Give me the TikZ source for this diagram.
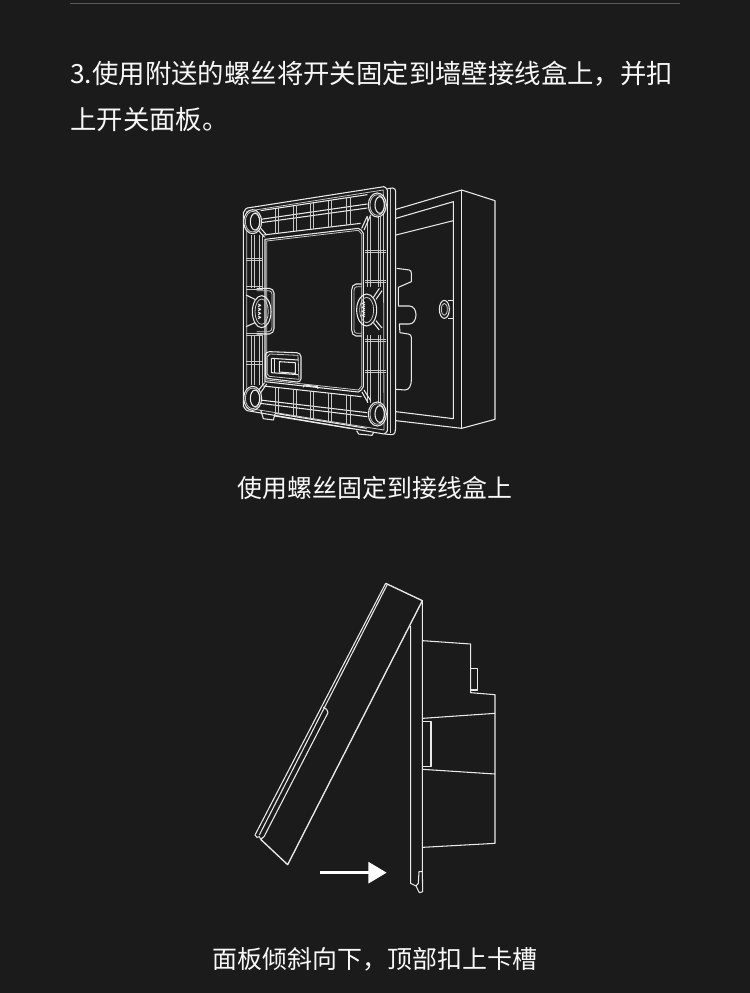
\documentclass[tikz,border=0pt]{standalone}
\usepackage{fontspec}
\setmainfont{Noto Sans CJK SC}
\usepackage{tikz}
\usetikzlibrary{arrows.meta, positioning, calc}
\definecolor{CBack}{HTML}{1B1B1B}
\definecolor{CRule}{HTML}{5A5A5A}
\definecolor{CWire}{HTML}{EAEAEA}
\definecolor{CText}{HTML}{F8F8F8}

\begin{document}
\begin{tikzpicture}[
    x=0.75pt, y=-0.75pt,
    headline/.style={anchor=base west, inner sep=0pt, text=CText, font=\fontsize{19.8}{24}\selectfont},
    caption/.style={anchor=base, inner sep=0pt, text=CText, font=\fontsize{18.7}{24}\selectfont},
    wire/.style={draw=CWire, line width=0.8pt, line join=round},
    finewire/.style={draw=CWire!85!black, line width=0.6pt, line join=round},
    pusharrow/.style={-{Triangle[length=13.75pt, width=15.75pt]}, white, line width=2.3pt},
    zoomed/.style={x=0.25pt, y=-0.25pt}
]
\fill[CBack] (0,0) rectangle (750,993);
\draw[CRule, line width=1pt] (70,3.5) -- (680,3.5);

\node[headline] (head1) at (70,83) {3.使用附送的螺丝将开关固定到墙壁接线盒上，并扣};
\node[headline] (head2) at (70,129) {上开关面板。};
\node[caption] (cap1) at (375,497) {使用螺丝固定到接线盒上};
\node[caption] (cap2) at (375,968) {面板倾斜向下，顶部扣上卡槽};

% wall box and mounting frame
\begin{scope}[shift={(230,180)}, zoomed]
  % box behind the frame
  \draw[wire] (498,88) -- (695,30) -- (795,62) -- (795,718) -- (695,745) -- (498,722);
  \draw[wire] (695,30) -- (695,745);
  \draw[wire] (498,115) -- (670,65) -- (670,716) -- (498,695);
  \draw[wire] (498,165) -- (670,122);
  \draw[wire] (500,265) -- (538,270) to[out=0,in=90] (544,280) -- (544,305) -- (505,322) -- (505,378) -- (538,378) to[out=0,in=90] (558,404) to[out=-90,in=0] (538,432) -- (508,432) -- (510,458) -- (535,462) to[out=0,in=90] (544,472) -- (544,600) to[out=-90,in=0] (525,630) -- (498,628);
  \draw[wire] (655,362) -- (671,362) -- (671,415) -- (655,415);
  \draw[wire] (643,388) ellipse [x radius=15, y radius=27];
  \draw[finewire] (643,388) ellipse [x radius=9, y radius=18];
  % frame outline
  \draw[wire] (52,84) -- (462,20) to[out=0,in=135] (472,30) -- (472,752) to[out=-135,in=0] (462,762) -- (52,692) to[out=180,in=90] (40,680) -- (40,96) to[out=-90,in=180] cycle;
  \draw[wire] (472,26) -- (488,24) to[out=0,in=90] (497,34) -- (497,745) to[out=-90,in=0] (486,764) -- (464,762);
  \draw[finewire] (482,26) -- (482,760);
  \draw[finewire] (50,94) -- (460,30) -- (462,750) -- (50,684) -- cycle;
  % window
  \draw[wire] (105,178) -- (385,145) to[out=0,in=135] (400,160) -- (400,620) to[out=-135,in=0] (385,636) -- (105,605) -- cycle;
  \draw[finewire] (110,183) -- (385,151) -- (395,162) -- (395,618) -- (385,630) -- (110,600) -- cycle;
  % rails along top and bottom
  \draw[wire] (92,92) -- (412,44);
  \draw[wire] (92,118) -- (412,72);
  \draw[wire] (92,128) -- (412,84);
  \draw[wire] (100,165) -- (392,130);
  \draw[wire] (100,618) -- (395,650);
  \draw[wire] (90,660) -- (412,698);
  \draw[wire] (90,670) -- (412,710);
  \draw[wire] (135,700) -- (410,745);
  \foreach \xr [evaluate=\xr as \ya using {92-0.15*(\xr-92)}, evaluate=\xr as \yb using {165-0.12*(\xr-100)}] in {135,190,240,295,350}
    \draw[finewire] (\xr,\ya) -- (\xr,\yb) (\xr+10,\ya-1.5) -- (\xr+10,\yb-1.2);
  \foreach \xr [evaluate=\xr as \ya using {618+0.11*(\xr-100)}, evaluate=\xr as \yb using {700+0.164*(\xr-135)}] in {135,190,240,295,350}
    \draw[finewire] (\xr,\ya) -- (\xr,\yb) (\xr+10,\ya+1.1) -- (\xr+10,\yb+1.6);
  % rails along left and right
  \foreach \xr in {65,72,88,96}
    \draw[finewire] (\xr,165) -- (\xr,325) (\xr,465) -- (\xr,615);
  \foreach \xr in {412,420,444,452}
    \draw[finewire] (\xr,110) -- (\xr,320) (\xr,465) -- (\xr,670);
  \foreach \yr in {235,320,460,545}
    \draw[finewire] (48,\yr) -- (100,\yr) (48,\yr+7) -- (100,\yr+7);
  \foreach \yr in {210,300,478,570}
    \draw[finewire] (406,\yr) -- (468,\yr) (406,\yr+7) -- (468,\yr+7);
  % corner screw seats
  \foreach \cx/\cy in {68/125, 442/75, 68/655, 442/702} {
    \fill[CBack] (\cx,\cy) ellipse [x radius=27, y radius=36];
    \draw[wire] (\cx,\cy) ellipse [x radius=27, y radius=36];
    \draw[finewire] (\cx,\cy) ellipse [x radius=22, y radius=31];
    \draw[wire] (\cx+7,\cy) ellipse [x radius=14, y radius=25];
  }
  \draw[wire] (84,150) -- (104,172) (92,145) -- (110,165);
  \draw[wire] (412,108) -- (395,145) (422,105) -- (402,150);
  \draw[wire] (86,630) -- (104,608) (92,638) -- (110,612);
  \draw[wire] (414,668) -- (396,636) (422,662) -- (402,630);
  % middle clips
  \draw[wire] (80,325) -- (118,325) to[out=0,in=90] (132,340) -- (132,445) to[out=-90,in=0] (118,462) -- (80,462);
  \draw[finewire] (80,332) -- (116,332) to[out=0,in=90] (126,342) -- (126,442) to[out=-90,in=0] (116,455) -- (80,455);
  \draw[wire] (95,395) ellipse [x radius=28, y radius=48];
  \draw[finewire] (95,395) ellipse [x radius=20, y radius=38];
  \foreach \yt in {372,384,396,408}
    \draw[wire] (84,\yt) -- (92,\yt+4) -- (84,\yt+8);
  \draw[wire] (48,345) -- (75,358) (48,440) -- (75,428);
  \draw[wire] (395,312) -- (378,312) to[out=180,in=90] (365,330) -- (365,450) to[out=-90,in=180] (378,468) -- (395,468);
  \draw[finewire] (395,320) -- (380,320) to[out=180,in=90] (372,332) -- (372,448) to[out=-90,in=180] (380,460) -- (395,460);
  \draw[wire] (410,390) ellipse [x radius=30, y radius=48];
  \draw[finewire] (410,390) ellipse [x radius=21, y radius=38];
  \foreach \yt in {366,378,390,402}
    \draw[wire] (405,\yt) -- (396,\yt+4) -- (405,\yt+8);
  \draw[wire] (430,352) -- (448,325) (438,358) -- (456,332) (430,428) -- (448,450) (438,422) -- (456,444);
  % latch window
  \draw[wire] (118,515) -- (200,518) to[out=0,in=90] (213,530) -- (213,596) to[out=-90,in=0] (202,606) -- (118,596) to[out=180,in=-90] (106,586) -- (106,526) to[out=90,in=180] cycle;
  \draw[finewire] (120,522) -- (204,526) -- (207,598) -- (118,589) -- (112,582) -- (112,530) -- cycle;
  \draw[wire] (124,535) -- (205,540) (124,535) -- (124,578) -- (205,584);
  \draw[wire] (134,538) -- (134,578);
  \draw[wire] (148,545) -- (196,548) -- (196,580) -- (148,576) -- cycle;
  % small tabs at the bottom
  \draw[wire] (220,622) -- (222,615) -- (262,620) -- (264,626);
  \draw[wire] (92,690) -- (100,716) -- (130,720) -- (135,702);
  \draw[wire] (135,708) -- (360,745);
  \draw[wire] (380,752) -- (386,762) -- (426,766) -- (432,756);
\end{scope}

% side view with tilted panel
\begin{scope}[shift={(240,570)}, zoomed]
  % tilted panel
  \draw[wire, line width=1pt] (437,40) -- (547,92) -- (143,884) -- (62,808);
  \draw[wire] (437,40) -- (45,795) -- (51,802) -- (58,800) -- (62,808);
  \draw[wire] (442,43) -- (58,795);
  \draw[wire] (250,412) -- (260,418) -- (264,428) -- (72,800) -- (62,808);
  % plate on the wall
  \draw[wire] (547,92) -- (547,905) -- (548,965) -- (538,968) -- (528,948) -- (512,940) -- (512,168);
  \draw[wire] (528,948) -- (535,940) -- (537,905) -- (547,905);
  % body behind the plate
  \draw[wire] (548,212) -- (692,222) -- (692,368) -- (765,374) -- (765,820) -- (548,832);
  \draw[wire] (692,295) -- (712,295) -- (712,360) -- (692,360);
  \draw[wire] (548,445) -- (765,430);
  \draw[wire] (548,598) -- (765,612);
  \draw[wire] (548,455) -- (573,455) -- (573,590) -- (548,590);
  \coordinate (push1) at (241,908);
  \coordinate (push2) at (440,908);
  \draw[pusharrow] (push1) -- (push2);
\end{scope}
\end{tikzpicture}
\end{document}
